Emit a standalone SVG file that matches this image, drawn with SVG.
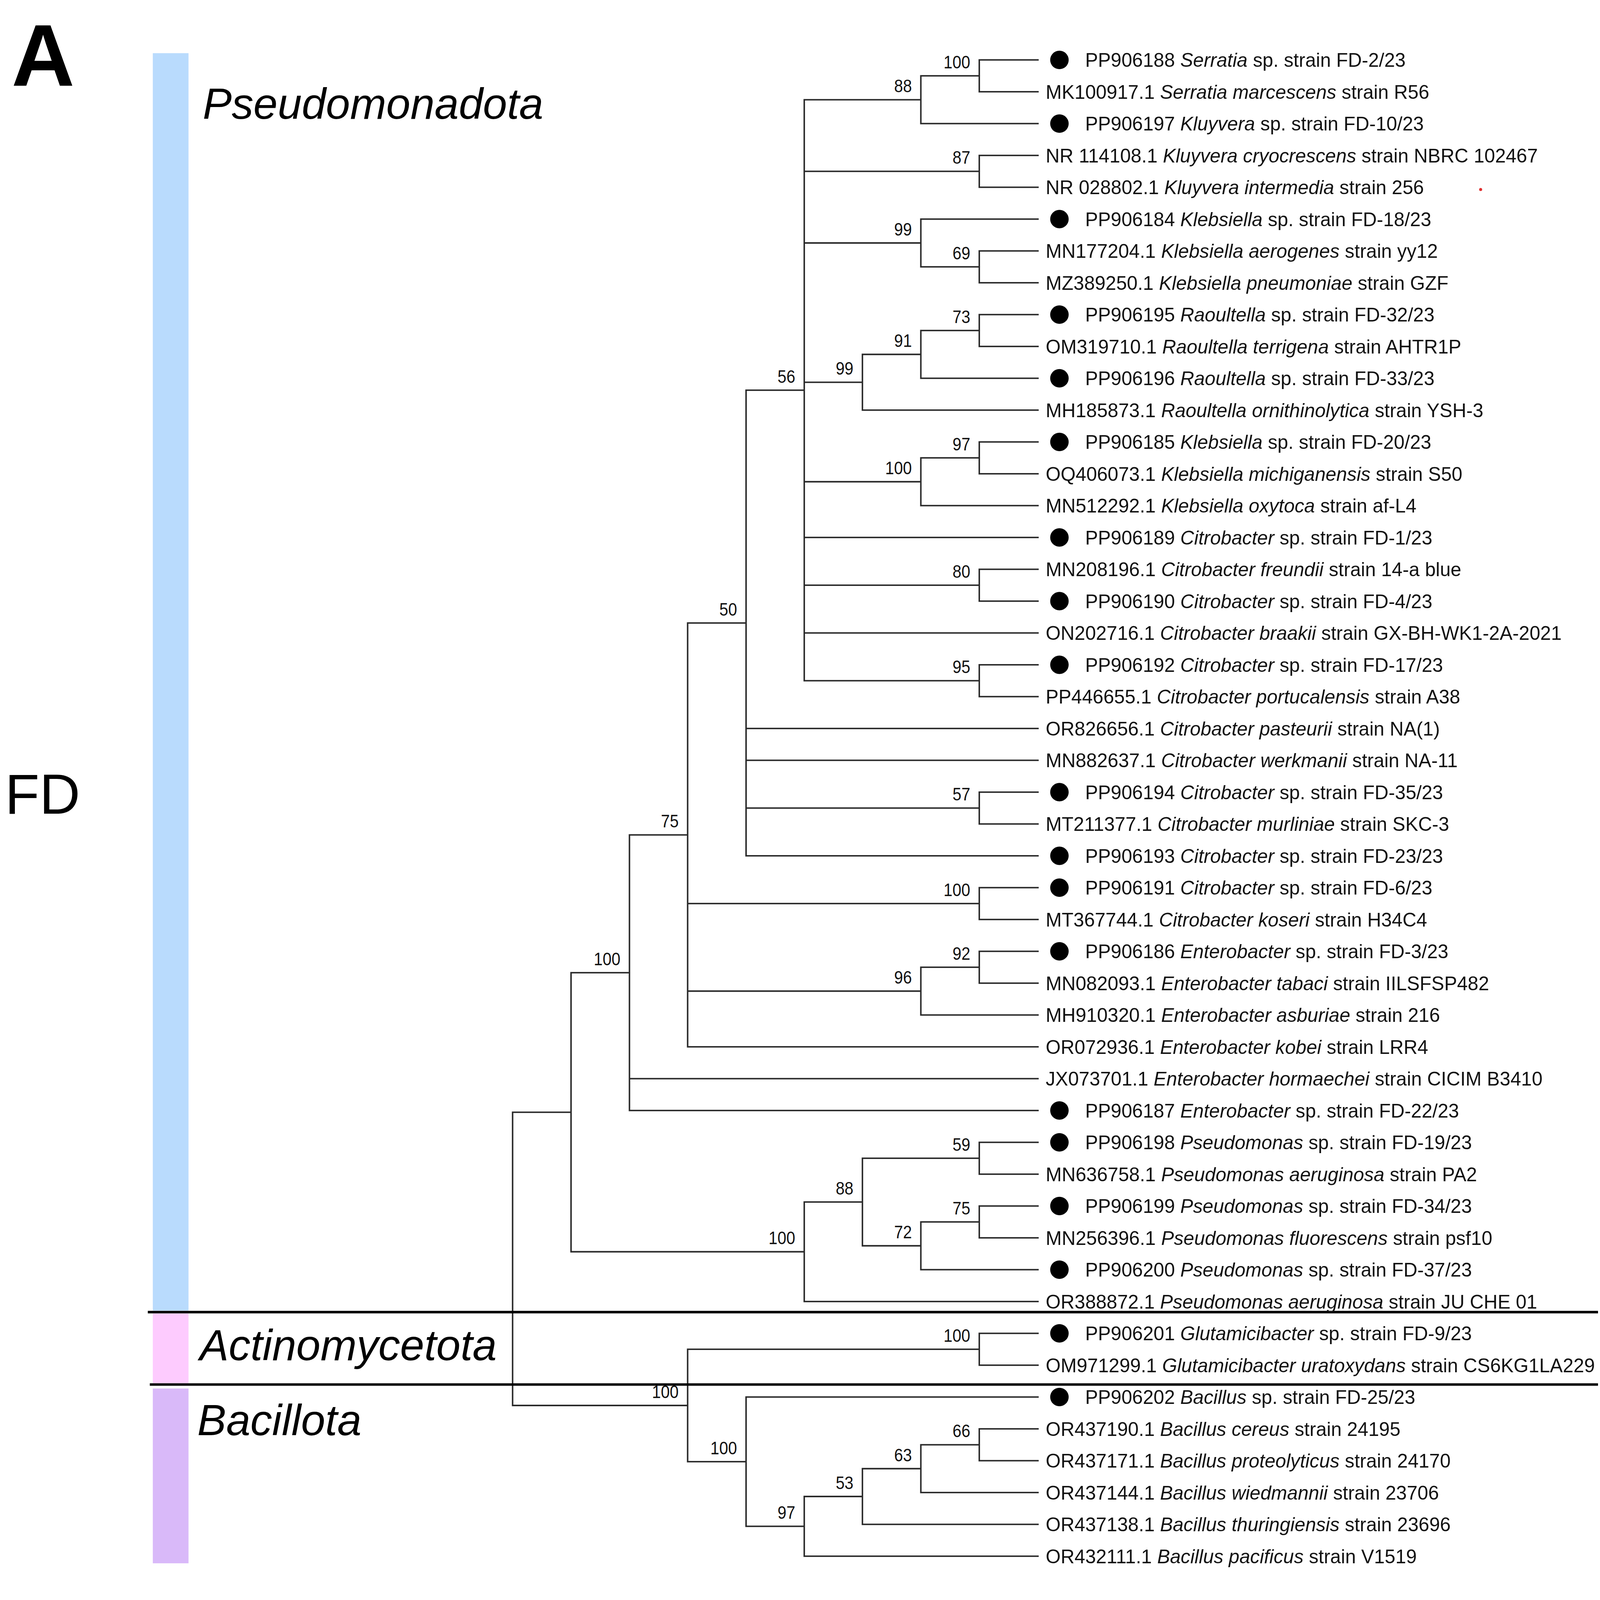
<svg xmlns="http://www.w3.org/2000/svg" width="6408" height="6308" viewBox="0 0 6408 6308" preserveAspectRatio="xMinYMin meet">
<style>
svg:root{width:100vw;height:100vh;display:block}
.tip{font-family:"Liberation Sans",Arial,sans-serif;font-size:77px;fill:#111}
.bs{font-family:"Liberation Sans",Arial,sans-serif;font-size:72px;fill:#111;text-anchor:end}
.phy{font-family:"Liberation Sans",Arial,sans-serif;font-style:italic;font-size:174px;fill:#000}
.br{fill:none;stroke:#2a2a2a;stroke-width:6;stroke-linecap:square}
.sep{stroke:#000;stroke-width:10}
.dot{fill:#000}
</style>
<rect width="6408" height="6308" fill="#fff"/>
<g id="phyla">
<rect x="612" y="213" width="143" height="5036" fill="#B9DBFD"/>
<rect x="612" y="5261" width="143" height="279" fill="#FDCBFE"/>
<rect x="612" y="5561" width="143" height="700" fill="#D9B9F9"/>
<text x="46" y="344" style="font-family:'Liberation Sans',Arial,sans-serif;font-weight:bold;font-size:350px">A</text>
<text x="20" y="3259" style="font-family:'Liberation Sans',Arial,sans-serif;font-size:226px">FD</text>
<text class="phy" x="812" y="475" font-size="172">Pseudomonadota</text>
<text class="phy" x="800" y="5448">Actinomycetota</text>
<text class="phy" x="790" y="5748">Bacillota</text>
</g>
<g id="connectors">
<path class="br" d="M3922 240V367.5M3922 240H4157M3922 367.5H4157
M3688 303.75V495M3688 303.75H3922M3688 495H4157
M3922 622.5V750M3922 622.5H4157M3922 750H4157
M3922 1005V1132.5M3922 1005H4157M3922 1132.5H4157
M3688 877.5V1068.75M3688 877.5H4157M3688 1068.75H3922
M3922 1260V1387.5M3922 1260H4157M3922 1387.5H4157
M3688 1323.75V1515M3688 1323.75H3922M3688 1515H4157
M3454 1419.4V1642.5M3454 1419.4H3688M3454 1642.5H4157
M3922 1770V1897.5M3922 1770H4157M3922 1897.5H4157
M3688 1833.75V2025M3688 1833.75H3922M3688 2025H4157
M3922 2280V2407.5M3922 2280H4157M3922 2407.5H4157
M3922 2662.5V2790M3922 2662.5H4157M3922 2790H4157
M3221 399.4V2726.25M3221 399.4H3688M3221 686.25H3922M3221 973.1H3688M3221 1531H3454M3221 1929.4H3688M3221 2152.5H4157M3221 2343.75H3922M3221 2535H4157M3221 2726.25H3922
M3922 3172.5V3300M3922 3172.5H4157M3922 3300H4157
M2988 1562.8V3427.5M2988 1562.8H3221M2988 2917.5H4157M2988 3045H4157M2988 3236.25H3922M2988 3427.5H4157
M3922 3555V3682.5M3922 3555H4157M3922 3682.5H4157
M3922 3810V3937.5M3922 3810H4157M3922 3937.5H4157
M3688 3873.75V4065M3688 3873.75H3922M3688 4065H4157
M2754 2495.2V4192.5M2754 2495.2H2988M2754 3618.75H3922M2754 3969.4H3688M2754 4192.5H4157
M2521 3343.8V4447.5M2521 3343.8H2754M2521 4320H4157M2521 4447.5H4157
M3922 4575V4702.5M3922 4575H4157M3922 4702.5H4157
M3922 4830V4957.5M3922 4830H4157M3922 4957.5H4157
M3688 4893.75V5085M3688 4893.75H3922M3688 5085H4157
M3454 4638.75V4989.4M3454 4638.75H3922M3454 4989.4H3688
M3221 4814.1V5212.5M3221 4814.1H3454M3221 5212.5H4157
M2287 3895.7V5013.3M2287 3895.7H2521M2287 5013.3H3221
M3922 5340V5467.5M3922 5340H4157M3922 5467.5H4157
M3922 5722.5V5850M3922 5722.5H4157M3922 5850H4157
M3688 5786.25V5977.5M3688 5786.25H3922M3688 5977.5H4157
M3454 5881.9V6105M3454 5881.9H3688M3454 6105H4157
M3221 5993.4V6232.5M3221 5993.4H3454M3221 6232.5H4157
M2988 5595V6113M2988 5595H4157M2988 6113H3221
M2754 5403.75V5854M2754 5403.75H3922M2754 5854H2988
M2053 4454.5V5628.9M2053 4454.5H2287M2053 5628.9H2754"/>
<line class="sep" x1="592" y1="5255" x2="6400" y2="5255"/>
<line class="sep" x1="600" y1="5545" x2="6400" y2="5545"/>
</g>
<g id="bootstrap">
<text class="bs" x="3886" y="274" textLength="107" lengthAdjust="spacingAndGlyphs">100</text>
<text class="bs" x="3652" y="369" textLength="71" lengthAdjust="spacingAndGlyphs">88</text>
<text class="bs" x="3886" y="656" textLength="71" lengthAdjust="spacingAndGlyphs">87</text>
<text class="bs" x="3886" y="1039" textLength="71" lengthAdjust="spacingAndGlyphs">69</text>
<text class="bs" x="3652" y="943" textLength="71" lengthAdjust="spacingAndGlyphs">99</text>
<text class="bs" x="3886" y="1294" textLength="71" lengthAdjust="spacingAndGlyphs">73</text>
<text class="bs" x="3652" y="1389" textLength="71" lengthAdjust="spacingAndGlyphs">91</text>
<text class="bs" x="3418" y="1501" textLength="71" lengthAdjust="spacingAndGlyphs">99</text>
<text class="bs" x="3886" y="1804" textLength="71" lengthAdjust="spacingAndGlyphs">97</text>
<text class="bs" x="3652" y="1899" textLength="107" lengthAdjust="spacingAndGlyphs">100</text>
<text class="bs" x="3886" y="2314" textLength="71" lengthAdjust="spacingAndGlyphs">80</text>
<text class="bs" x="3886" y="2696" textLength="71" lengthAdjust="spacingAndGlyphs">95</text>
<text class="bs" x="3185" y="1533" textLength="71" lengthAdjust="spacingAndGlyphs">56</text>
<text class="bs" x="3886" y="3206" textLength="71" lengthAdjust="spacingAndGlyphs">57</text>
<text class="bs" x="2952" y="2465" textLength="71" lengthAdjust="spacingAndGlyphs">50</text>
<text class="bs" x="3886" y="3589" textLength="107" lengthAdjust="spacingAndGlyphs">100</text>
<text class="bs" x="3886" y="3844" textLength="71" lengthAdjust="spacingAndGlyphs">92</text>
<text class="bs" x="3652" y="3939" textLength="71" lengthAdjust="spacingAndGlyphs">96</text>
<text class="bs" x="2718" y="3314" textLength="71" lengthAdjust="spacingAndGlyphs">75</text>
<text class="bs" x="2485" y="3866" textLength="107" lengthAdjust="spacingAndGlyphs">100</text>
<text class="bs" x="3886" y="4609" textLength="71" lengthAdjust="spacingAndGlyphs">59</text>
<text class="bs" x="3886" y="4864" textLength="71" lengthAdjust="spacingAndGlyphs">75</text>
<text class="bs" x="3652" y="4959" textLength="71" lengthAdjust="spacingAndGlyphs">72</text>
<text class="bs" x="3418" y="4784" textLength="71" lengthAdjust="spacingAndGlyphs">88</text>
<text class="bs" x="3185" y="4983" textLength="107" lengthAdjust="spacingAndGlyphs">100</text>
<text class="bs" x="3886" y="5374" textLength="107" lengthAdjust="spacingAndGlyphs">100</text>
<text class="bs" x="3886" y="5756" textLength="71" lengthAdjust="spacingAndGlyphs">66</text>
<text class="bs" x="3652" y="5852" textLength="71" lengthAdjust="spacingAndGlyphs">63</text>
<text class="bs" x="3418" y="5963" textLength="71" lengthAdjust="spacingAndGlyphs">53</text>
<text class="bs" x="3185" y="6083" textLength="71" lengthAdjust="spacingAndGlyphs">97</text>
<text class="bs" x="2952" y="5824" textLength="107" lengthAdjust="spacingAndGlyphs">100</text>
<text class="bs" x="2718" y="5599" textLength="107" lengthAdjust="spacingAndGlyphs">100</text>
</g>
<g id="tips">
<g id="t1"><circle class="dot" cx="4243" cy="240" r="37"/><text class="tip" x="4346" y="268">PP906188 <tspan font-style="italic">Serratia</tspan> sp. strain FD-2/23</text></g>
<g id="t2"><text class="tip" x="4188" y="395.5">MK100917.1 <tspan font-style="italic">Serratia marcescens</tspan> strain R56</text></g>
<g id="t3"><circle class="dot" cx="4243" cy="495" r="37"/><text class="tip" x="4346" y="523">PP906197 <tspan font-style="italic">Kluyvera</tspan> sp. strain FD-10/23</text></g>
<g id="t4"><text class="tip" x="4188" y="650.5">NR 114108.1 <tspan font-style="italic">Kluyvera cryocrescens</tspan> strain NBRC 102467</text></g>
<g id="t5"><text class="tip" x="4188" y="778">NR 028802.1 <tspan font-style="italic">Kluyvera intermedia</tspan> strain 256</text></g>
<g id="t6"><circle class="dot" cx="4243" cy="877.5" r="37"/><text class="tip" x="4346" y="905.5">PP906184 <tspan font-style="italic">Klebsiella</tspan> sp. strain FD-18/23</text></g>
<g id="t7"><text class="tip" x="4188" y="1033">MN177204.1 <tspan font-style="italic">Klebsiella aerogenes</tspan> strain yy12</text></g>
<g id="t8"><text class="tip" x="4188" y="1160.5">MZ389250.1 <tspan font-style="italic">Klebsiella pneumoniae</tspan> strain GZF</text></g>
<g id="t9"><circle class="dot" cx="4243" cy="1260" r="37"/><text class="tip" x="4346" y="1288">PP906195 <tspan font-style="italic">Raoultella</tspan> sp. strain FD-32/23</text></g>
<g id="t10"><text class="tip" x="4188" y="1415.5">OM319710.1 <tspan font-style="italic">Raoultella terrigena</tspan> strain AHTR1P</text></g>
<g id="t11"><circle class="dot" cx="4243" cy="1515" r="37"/><text class="tip" x="4346" y="1543">PP906196 <tspan font-style="italic">Raoultella</tspan> sp. strain FD-33/23</text></g>
<g id="t12"><text class="tip" x="4188" y="1670.5">MH185873.1 <tspan font-style="italic">Raoultella ornithinolytica</tspan> strain YSH-3</text></g>
<g id="t13"><circle class="dot" cx="4243" cy="1770" r="37"/><text class="tip" x="4346" y="1798">PP906185 <tspan font-style="italic">Klebsiella</tspan> sp. strain FD-20/23</text></g>
<g id="t14"><text class="tip" x="4188" y="1925.5">OQ406073.1 <tspan font-style="italic">Klebsiella michiganensis</tspan> strain S50</text></g>
<g id="t15"><text class="tip" x="4188" y="2053">MN512292.1 <tspan font-style="italic">Klebsiella oxytoca</tspan> strain af-L4</text></g>
<g id="t16"><circle class="dot" cx="4243" cy="2152.5" r="37"/><text class="tip" x="4346" y="2180.5">PP906189 <tspan font-style="italic">Citrobacter</tspan> sp. strain FD-1/23</text></g>
<g id="t17"><text class="tip" x="4188" y="2308">MN208196.1 <tspan font-style="italic">Citrobacter freundii</tspan> strain 14-a blue</text></g>
<g id="t18"><circle class="dot" cx="4243" cy="2407.5" r="37"/><text class="tip" x="4346" y="2435.5">PP906190 <tspan font-style="italic">Citrobacter</tspan> sp. strain FD-4/23</text></g>
<g id="t19"><text class="tip" x="4188" y="2563">ON202716.1 <tspan font-style="italic">Citrobacter braakii</tspan> strain GX-BH-WK1-2A-2021</text></g>
<g id="t20"><circle class="dot" cx="4243" cy="2662.5" r="37"/><text class="tip" x="4346" y="2690.5">PP906192 <tspan font-style="italic">Citrobacter</tspan> sp. strain FD-17/23</text></g>
<g id="t21"><text class="tip" x="4188" y="2818">PP446655.1 <tspan font-style="italic">Citrobacter portucalensis</tspan> strain A38</text></g>
<g id="t22"><text class="tip" x="4188" y="2945.5">OR826656.1 <tspan font-style="italic">Citrobacter pasteurii</tspan> strain NA(1)</text></g>
<g id="t23"><text class="tip" x="4188" y="3073">MN882637.1 <tspan font-style="italic">Citrobacter werkmanii</tspan> strain NA-11</text></g>
<g id="t24"><circle class="dot" cx="4243" cy="3172.5" r="37"/><text class="tip" x="4346" y="3200.5">PP906194 <tspan font-style="italic">Citrobacter</tspan> sp. strain FD-35/23</text></g>
<g id="t25"><text class="tip" x="4188" y="3328">MT211377.1 <tspan font-style="italic">Citrobacter murliniae</tspan> strain SKC-3</text></g>
<g id="t26"><circle class="dot" cx="4243" cy="3427.5" r="37"/><text class="tip" x="4346" y="3455.5">PP906193 <tspan font-style="italic">Citrobacter</tspan> sp. strain FD-23/23</text></g>
<g id="t27"><circle class="dot" cx="4243" cy="3555" r="37"/><text class="tip" x="4346" y="3583">PP906191 <tspan font-style="italic">Citrobacter</tspan> sp. strain FD-6/23</text></g>
<g id="t28"><text class="tip" x="4188" y="3710.5">MT367744.1 <tspan font-style="italic">Citrobacter koseri</tspan> strain H34C4</text></g>
<g id="t29"><circle class="dot" cx="4243" cy="3810" r="37"/><text class="tip" x="4346" y="3838">PP906186 <tspan font-style="italic">Enterobacter</tspan> sp. strain FD-3/23</text></g>
<g id="t30"><text class="tip" x="4188" y="3965.5">MN082093.1 <tspan font-style="italic">Enterobacter tabaci</tspan> strain IILSFSP482</text></g>
<g id="t31"><text class="tip" x="4188" y="4093">MH910320.1 <tspan font-style="italic">Enterobacter asburiae</tspan>  strain 216</text></g>
<g id="t32"><text class="tip" x="4188" y="4220.5">OR072936.1 <tspan font-style="italic">Enterobacter kobei</tspan> strain LRR4</text></g>
<g id="t33"><text class="tip" x="4188" y="4348">JX073701.1 <tspan font-style="italic">Enterobacter hormaechei</tspan> strain CICIM B3410</text></g>
<g id="t34"><circle class="dot" cx="4243" cy="4447.5" r="37"/><text class="tip" x="4346" y="4475.5">PP906187 <tspan font-style="italic">Enterobacter</tspan> sp. strain FD-22/23</text></g>
<g id="t35"><circle class="dot" cx="4243" cy="4575" r="37"/><text class="tip" x="4346" y="4603">PP906198 <tspan font-style="italic">Pseudomonas</tspan> sp. strain FD-19/23</text></g>
<g id="t36"><text class="tip" x="4188" y="4730.5">MN636758.1 <tspan font-style="italic">Pseudomonas aeruginosa</tspan> strain PA2</text></g>
<g id="t37"><circle class="dot" cx="4243" cy="4830" r="37"/><text class="tip" x="4346" y="4858">PP906199 <tspan font-style="italic">Pseudomonas</tspan> sp. strain FD-34/23</text></g>
<g id="t38"><text class="tip" x="4188" y="4985.5">MN256396.1 <tspan font-style="italic">Pseudomonas fluorescens</tspan> strain psf10</text></g>
<g id="t39"><circle class="dot" cx="4243" cy="5085" r="37"/><text class="tip" x="4346" y="5113">PP906200 <tspan font-style="italic">Pseudomonas</tspan> sp. strain FD-37/23</text></g>
<g id="t40"><text class="tip" x="4188" y="5240.5">OR388872.1 <tspan font-style="italic">Pseudomonas aeruginosa</tspan> strain JU CHE 01</text></g>
<g id="t41"><circle class="dot" cx="4243" cy="5340" r="37"/><text class="tip" x="4346" y="5368">PP906201 <tspan font-style="italic">Glutamicibacter</tspan> sp. strain FD-9/23</text></g>
<g id="t42"><text class="tip" x="4188" y="5495.5">OM971299.1 <tspan font-style="italic">Glutamicibacter uratoxydans</tspan> strain CS6KG1LA229</text></g>
<g id="t43"><circle class="dot" cx="4243" cy="5595" r="37"/><text class="tip" x="4346" y="5623">PP906202 <tspan font-style="italic">Bacillus</tspan> sp. strain FD-25/23</text></g>
<g id="t44"><text class="tip" x="4188" y="5750.5">OR437190.1 <tspan font-style="italic">Bacillus cereus</tspan> strain 24195</text></g>
<g id="t45"><text class="tip" x="4188" y="5878">OR437171.1 <tspan font-style="italic">Bacillus proteolyticus</tspan> strain 24170</text></g>
<g id="t46"><text class="tip" x="4188" y="6005.5">OR437144.1 <tspan font-style="italic">Bacillus wiedmannii</tspan> strain 23706</text></g>
<g id="t47"><text class="tip" x="4188" y="6133">OR437138.1 <tspan font-style="italic">Bacillus thuringiensis</tspan> strain 23696</text></g>
<g id="t48"><text class="tip" x="4188" y="6260.5">OR432111.1 <tspan font-style="italic">Bacillus pacificus</tspan> strain V1519</text></g>
</g>
<circle cx="5930" cy="759" r="6" fill="#e03030"/>
</svg>
